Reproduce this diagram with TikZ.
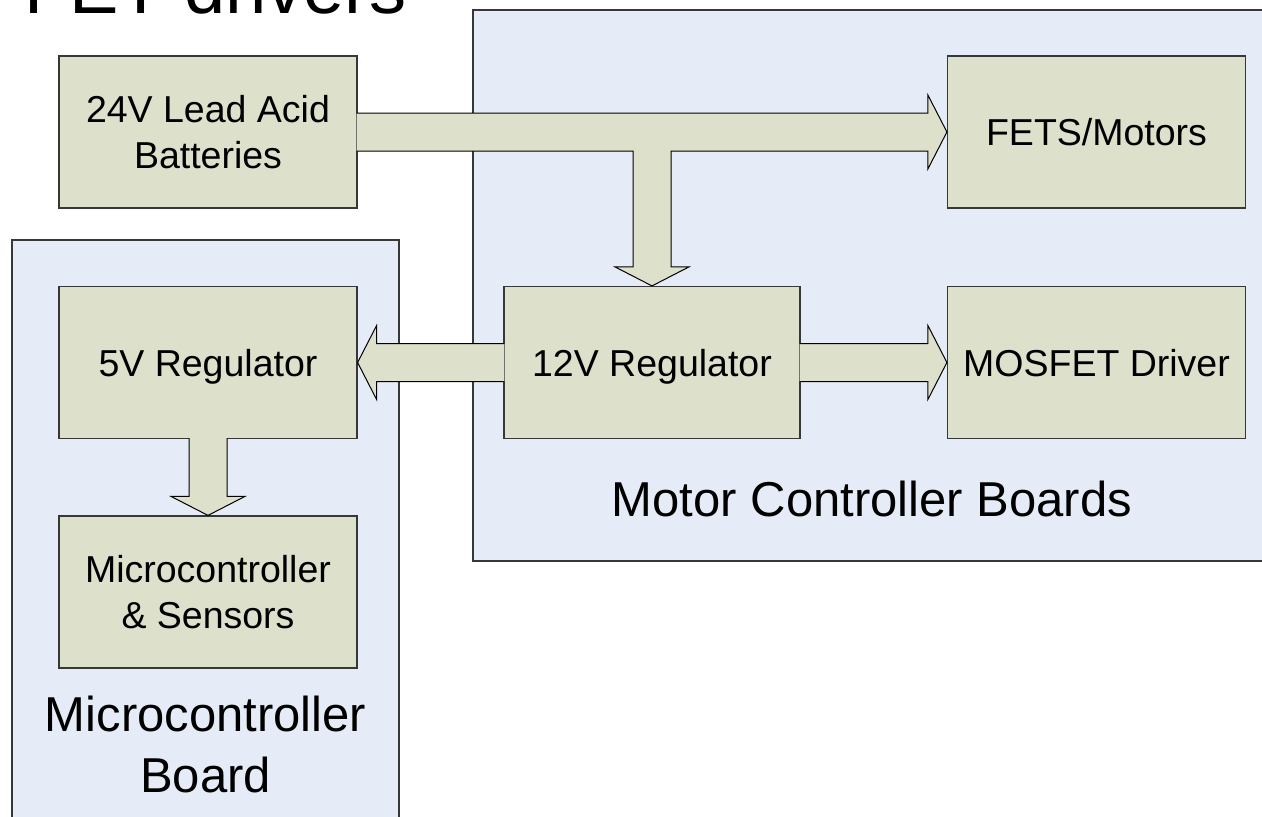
\documentclass[tikz,border=0pt]{standalone}
\usepackage{fontspec}
\setmainfont{Liberation Sans}
\usetikzlibrary{calc}

\definecolor{boxfill}{RGB}{221,224,203}
\definecolor{boardfill}{RGB}{230,236,247}
\definecolor{edgegray}{RGB}{55,55,55}

\newcommand\boxfont{\fontsize{37.5}{46}\selectfont}
\newcommand\boardfont{\fontsize{49}{61}\selectfont}
\newcommand\titlefont{\fontsize{74}{80}\selectfont}
\newcommand\tworows[2]{\begin{tabular}[t]{@{}c@{}}#1\\#2\end{tabular}}

\begin{document}
\begin{tikzpicture}[x=1pt,y=-1pt,
  block/.style={draw=edgegray, line width=1.2pt, fill=boxfill,
    minimum width=298pt, minimum height=152pt, inner sep=0pt,
    font=\boxfont, text height=27pt, text depth=0pt},
  block2/.style={block, text depth=46pt},
  board/.style={draw=edgegray, line width=1.1pt, fill=boardfill, inner sep=0pt},
  boardlabel/.style={font=\boardfont, inner sep=0pt, anchor=base},
  arrowline/.style={draw=black, line width=1pt, line join=miter},
]
\useasboundingbox (0,0) rectangle (1262,817);
\clip (0,0) rectangle (1262,817);

% title running off the top edge
\node[anchor=base west, font=\titlefont, inner sep=0pt] (title) at (24,13) {FET drivers};

% the two boards
\node[board, minimum width=802pt, minimum height=551pt] (mcb) at (874,285.5) {};
\node[board, minimum width=387pt, minimum height=590pt] (ucb) at (205.5,535) {};
\node[boardlabel] (mcblabel) at (872,516) {Motor Controller Boards};
\node[boardlabel] (ucblabel) at (205.5,731) {\tworows{Microcontroller}{Board}};

% function blocks
\node[block2] (bat)   at (208,132)    {\tworows{24V Lead Acid}{Batteries}};
\node[block]  (fets)  at (1096.5,132) {FETS/Motors};
\node[block, minimum width=296pt] (reg12) at (652,362.5) {12V Regulator};
\node[block]  (mos)   at (1096.5,362.5) {MOSFET Driver};
\node[block]  (reg5)  at (208,362.5)  {5V Regulator};
\node[block2] (micro) at (208,592)    {\tworows{Microcontroller}{\& Sensors}};

% block arrows: shaft half width 19, head half width 37, head length 19
\def\trunk{($(bat.east)+(-1,-19)$) -- ($(fets.west)+(-19,-19)$) -- ($(fets.west)+(-19,-37)$)
  -- (fets.west) -- ($(fets.west)+(-19,37)$) -- ($(fets.west)+(-19,19)$)
  -- ($(reg12.north |- bat.east)+(19,19)$) -- ($(reg12.north)+(19,-19)$) -- ($(reg12.north)+(37,-19)$)
  -- (reg12.north) -- ($(reg12.north)+(-37,-19)$) -- ($(reg12.north)+(-19,-19)$)
  -- ($(reg12.north |- bat.east)+(-19,19)$) -- ($(bat.east)+(-1,19)$)}
\fill[boxfill] \trunk -- cycle;
\path[arrowline] \trunk;

\def\tofive{($(reg12.west)+(1,-19)$) -- ($(reg5.east)+(19,-19)$) -- ($(reg5.east)+(19,-37)$)
  -- (reg5.east) -- ($(reg5.east)+(19,37)$) -- ($(reg5.east)+(19,19)$) -- ($(reg12.west)+(1,19)$)}
\fill[boxfill] \tofive -- cycle;
\path[arrowline] \tofive;

\def\todriver{($(reg12.east)+(-1,-19)$) -- ($(mos.west)+(-19,-19)$) -- ($(mos.west)+(-19,-37)$)
  -- (mos.west) -- ($(mos.west)+(-19,37)$) -- ($(mos.west)+(-19,19)$) -- ($(reg12.east)+(-1,19)$)}
\fill[boxfill] \todriver -- cycle;
\path[arrowline] \todriver;

\def\tomicro{($(reg5.south)+(-19,-1)$) -- ($(micro.north)+(-19,-19)$) -- ($(micro.north)+(-37,-19)$)
  -- (micro.north) -- ($(micro.north)+(37,-19)$) -- ($(micro.north)+(19,-19)$) -- ($(reg5.south)+(19,-1)$)}
\fill[boxfill] \tomicro -- cycle;
\path[arrowline] \tomicro;
\end{tikzpicture}
\end{document}
